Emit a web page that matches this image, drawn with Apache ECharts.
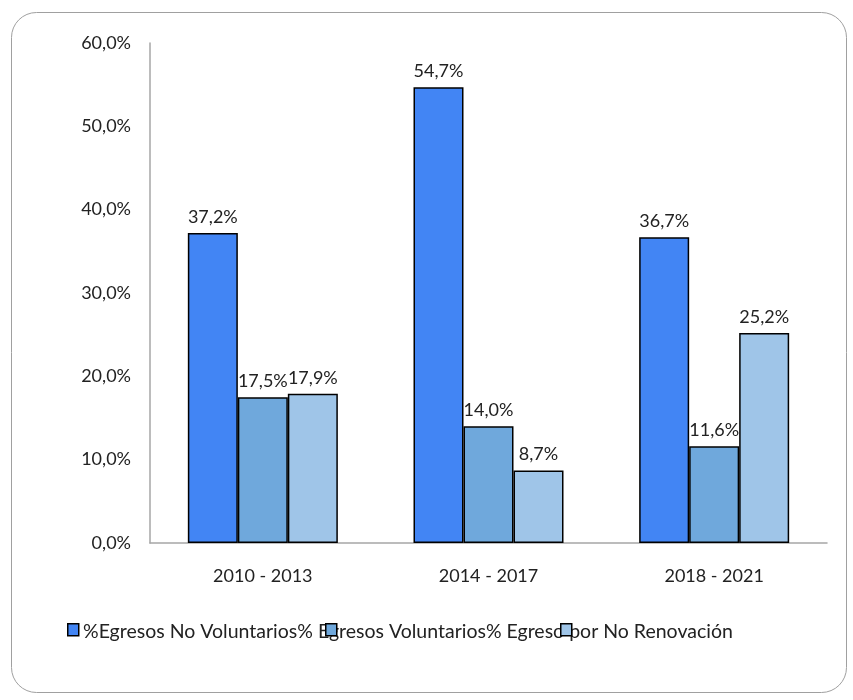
<!DOCTYPE html>
<html>
<head>
<meta charset="utf-8">
<script src="https://cdn.jsdelivr.net/npm/echarts@6/dist/echarts.min.js"></script>
<style>html,body{margin:0;padding:0;background:#fff;}#c{width:853px;height:700px;}</style>
</head>
<body>
<div id="c"></div>
<script>
const categories = ['2010 - 2013', '2014 - 2017', '2018 - 2021'];
const seriesNames = ['%Egresos No Voluntarios', '% Egresos Voluntarios', '% Egreso por No Renovación'];
const noVoluntarios = [37.2, 54.7, 36.7];
const voluntarios = [17.5, 14.0, 11.6];
const noRenovacion = [17.9, 8.7, 25.2];
const yTicks = [0, 10, 20, 30, 40, 50, 60];

const colors = ['#4285F4', '#6FA8DC', '#9FC5E8'];
const font = 'Lato, "Noto Sans", sans-serif';
const fmt = v => v.toFixed(1).replace('.', ',') + '%';

const chart = echarts.init(document.getElementById('c'), null, {renderer: 'canvas'});
const mk = (name, data, i) => ({
  name: name, type: 'bar', data: data,
  barWidth: 50, barGap: '0%',
  itemStyle: {color: colors[i], borderColor: '#000', borderWidth: 1.5},
  label: {show: true, position: 'top', distance: 7, color: '#222', fontSize: 18, fontFamily: font,
    formatter: p => fmt(p.value)}
});
const legendBase = (name, left) => ({
  data: [{name: name, icon: 'rect'}], left: left, top: 623, padding: 0, itemWidth: 11, itemHeight: 12,
  formatter: () => ' ', textStyle: {fontSize: 1},
  itemStyle: {borderColor: '#000', borderWidth: 1.5}, selectedMode: false
});
chart.setOption({
  animation: false,
  backgroundColor: '#fff',
  grid: {left: 150, right: 26, top: 43, bottom: 157},
  xAxis: {
    type: 'category', data: categories,
    axisLine: {lineStyle: {color: '#A6A6A6', width: 1.5}},
    axisTick: {show: false},
    axisLabel: {color: '#222', fontSize: 18, fontFamily: font, margin: 24}
  },
  yAxis: {
    type: 'value', min: yTicks[0], max: yTicks[yTicks.length - 1], interval: 10,
    axisLine: {show: true, lineStyle: {color: '#A6A6A6', width: 1.5}},
    axisTick: {show: false},
    splitLine: {show: false},
    axisLabel: {color: '#222', fontSize: 18, fontFamily: font, margin: 19, formatter: v => fmt(v)}
  },
  legend: [legendBase(seriesNames[0], 67), legendBase(seriesNames[1], 325), legendBase(seriesNames[2], 560)],
  graphic: [
    {type: 'rect', left: 9, top: 10, z: -1, silent: true,
      shape: {width: 835, height: 680, r: 25},
      style: {fill: 'none', stroke: '#A0A0A0', lineWidth: 1}},
    {type: 'text', left: 83, top: 622, z: 0, silent: true,
      style: {text: seriesNames.join(''), fontSize: 19.5, fontFamily: font, fill: '#222'}}
  ],
  series: [mk(seriesNames[0], noVoluntarios, 0), mk(seriesNames[1], voluntarios, 1), mk(seriesNames[2], noRenovacion, 2)]
});
</script>
</body>
</html>
